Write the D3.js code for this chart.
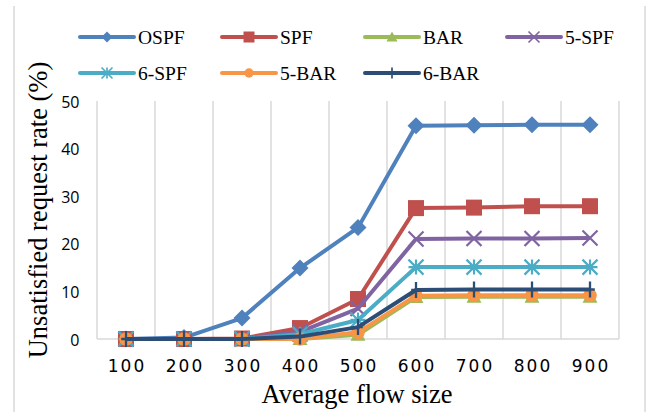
<!DOCTYPE html>
<html><head><meta charset="utf-8">
<script src="https://cdn.jsdelivr.net/npm/d3@7"></script>
<style>body{margin:0;background:#fff}svg{display:block}</style>
</head><body>
<svg id="c" width="651" height="412"></svg>
<script>
const categories = ["100","200","300","400","500","600","700","800","900"];
const seriesNames = ["OSPF","SPF","BAR","5-SPF","6-SPF","5-BAR","6-BAR"];
const ospf   = [0, 0.3, 4.4, 14.9, 23.4, 44.8, 44.9, 45.0, 45.0];
const spf    = [0, 0, 0.1, 2.3, 8.4, 27.5, 27.6, 27.9, 27.9];
const bar    = [0, 0, 0, 0, 0.9, 8.8, 8.9, 8.9, 8.9];
const spf5   = [0, 0, 0, 1.5, 6.4, 21.0, 21.1, 21.1, 21.2];
const spf6   = [0, 0, 0, 1.0, 4.0, 15.1, 15.1, 15.1, 15.1];
const bar5   = [0, 0, 0, 0, 1.4, 9.1, 9.2, 9.2, 9.2];
const bar6   = [0, 0, 0, 0.5, 2.5, 10.3, 10.4, 10.4, 10.4];
const yTicks = [0, 10, 20, 30, 40, 50];
const xTitle = "Average flow size";
const yTitle = "Unsatisfied request rate (%)";

const seriesValues = [ospf, spf, bar, spf5, spf6, bar5, bar6];
const colors = ["#4f81bd","#c0504d","#9bbb59","#8064a2","#4bacc6","#f79646","#2c4d75"];
const markers = ["diamond","square","triangle","x","asterisk","circle","plus"];

const svg = d3.select("#c");
const L = 97, R = 619, T = 101, B = 339;
const x = d3.scaleBand().domain(categories).range([L, R]);
const y = d3.scaleLinear().domain([0, 50]).range([B, T]);
const cx = c => x(c) + x.bandwidth() / 2;

// frame side lines
svg.append("line").attr("x1",14).attr("x2",14).attr("y1",6).attr("y2",412).attr("stroke","#d9d9d9").attr("stroke-width",1.5);
svg.append("line").attr("x1",645).attr("x2",645).attr("y1",6).attr("y2",412).attr("stroke","#d9d9d9").attr("stroke-width",1.5);

// vertical gridlines at band boundaries
const bounds = categories.map(c => x(c)).concat([R]);
svg.append("g").selectAll("line").data(bounds).join("line")
  .attr("x1", d => d).attr("x2", d => d).attr("y1", y(50)).attr("y2", y(0))
  .attr("stroke", "#d9d9d9").attr("stroke-width", 1.5);
// baseline
svg.append("line").attr("x1", L).attr("x2", R).attr("y1", y(0)).attr("y2", y(0))
  .attr("stroke", "#d9d9d9").attr("stroke-width", 1.5);

// y tick labels
svg.append("g").selectAll("text").data(yTicks).join("text")
  .attr("x", 79.5).attr("y", d => y(d) + 6.5).attr("text-anchor", "end")
  .attr("font-family", "'Open Sans', sans-serif").attr("font-size", 16).attr("fill", "#000")
  .text(d => d);

// x tick labels
svg.append("g").selectAll("text").data(categories).join("text")
  .attr("x", d => cx(d) + 1).attr("y", 372).attr("text-anchor", "middle")
  .attr("font-family", "'DejaVu Sans', sans-serif").attr("font-size", 17)
  .attr("letter-spacing", "2px").attr("fill", "#000")
  .text(d => d);

// axis titles
svg.append("text").attr("x", 357).attr("y", 403).attr("text-anchor", "middle")
  .attr("font-family", "'Liberation Serif', serif").attr("font-size", 26.5).text(xTitle);
svg.append("text").attr("transform", "translate(46.5,210) rotate(-90)").attr("text-anchor", "middle")
  .attr("font-family", "'Liberation Serif', serif").attr("font-size", 26.5).text(yTitle);

function drawMarker(g, type, color, s) {
  const h = s / 2;
  switch (type) {
    case "diamond":
      g.append("path").attr("d", `M0,${-h}L${h},0L0,${h}L${-h},0Z`).attr("fill", color); break;
    case "square":
      g.append("rect").attr("x", -h).attr("y", -h).attr("width", s).attr("height", s).attr("fill", color); break;
    case "triangle":
      g.append("path").attr("d", `M0,${-h}L${h},${h*0.8}L${-h},${h*0.8}Z`).attr("fill", color); break;
    case "circle":
      g.append("circle").attr("r", h * 0.85).attr("fill", color); break;
    case "x":
      g.append("path").attr("d", `M${-h},${-h}L${h},${h}M${-h},${h}L${h},${-h}`).attr("stroke", color).attr("stroke-width", s/8 + 0.3).attr("fill","none"); break;
    case "asterisk":
      g.append("path").attr("d", `M${-h},${-h}L${h},${h}M${-h},${h}L${h},${-h}M0,${-h}L0,${h}M${-h},0L${h},0`).attr("stroke", color).attr("stroke-width", s/8 + 0.3).attr("fill","none"); break;
    case "plus":
      g.append("path").attr("d", `M0,${-h}L0,${h}M${-h*0.6},0L${h*0.6},0`).attr("stroke", color).attr("stroke-width", s/8 + 0.3).attr("fill","none"); break;
  }
}

const line = d3.line().x((d, i) => cx(categories[i])).y(d => y(d));
seriesValues.forEach((vals, k) => {
  const g = svg.append("g");
  g.append("path").datum(vals).attr("d", line).attr("fill", "none")
    .attr("stroke", colors[k]).attr("stroke-width", 4).attr("stroke-linejoin", "round");
  const sizes = {diamond:17, square:16, triangle:15, circle:16, x:15, asterisk:15, plus:16};
  vals.forEach((v, i) => {
    const mg = g.append("g").attr("transform", `translate(${cx(categories[i])},${y(v)})`);
    drawMarker(mg, markers[k], colors[k], sizes[markers[k]]);
  });
});

// legend
const legX = [80, 222, 365, 507];
const legY = [37, 73];
seriesNames.forEach((name, k) => {
  const col = k % 4, row = Math.floor(k / 4);
  const g = svg.append("g").attr("transform", `translate(${legX[col]},${legY[row]})`);
  g.append("line").attr("x1", 0).attr("x2", 54).attr("y1", 0).attr("y2", 0)
    .attr("stroke", colors[k]).attr("stroke-width", 4).attr("stroke-linecap", "round");
  const mg = g.append("g").attr("transform", "translate(27,0)");
  drawMarker(mg, markers[k], colors[k], 11);
  g.append("text").attr("x", 58).attr("y", 7).attr("font-family", "'Liberation Serif', serif")
    .attr("font-size", 19.5).attr("fill", "#000").text(name);
});
</script>
</body></html>
